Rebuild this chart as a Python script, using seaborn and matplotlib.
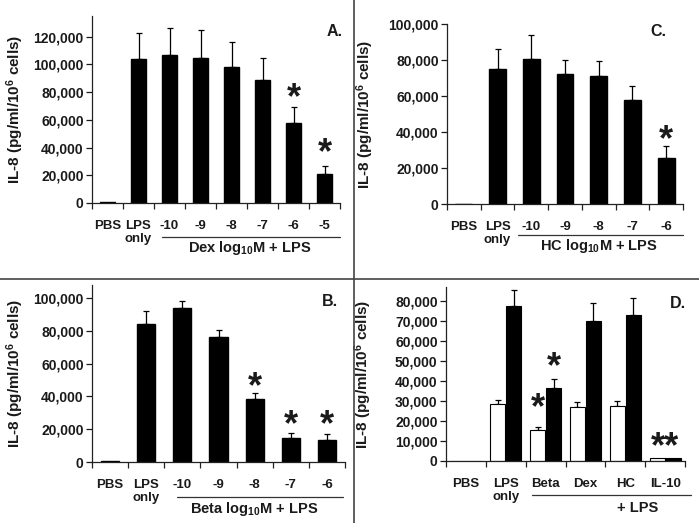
import numpy as np
import pandas as pd
import seaborn as sns
import matplotlib.pyplot as plt
from matplotlib.lines import Line2D
from matplotlib.ticker import FuncFormatter, FixedLocator, MultipleLocator
from matplotlib import transforms

# ---------------- data ----------------
a_cats = ['PBS', 'LPS\nonly', '-10', '-9', '-8', '-7', '-6', '-5']
a_vals = [800, 104000, 107000, 105000, 98000, 89000, 57500, 21000]
a_err = [0, 19000, 19500, 20000, 18000, 16000, 11500, 6000]
a_star_idx = [6, 7]
a_star_y = [80000, 40000]

c_cats = ['PBS', 'LPS\nonly', '-10', '-9', '-8', '-7', '-6']
c_vals = [0, 75000, 80500, 72500, 71000, 58000, 25500]
c_err = [0, 11000, 13500, 7500, 8500, 7500, 6500]
c_star_idx = [6]
c_star_y = [38500]

b_cats = ['PBS', 'LPS\nonly', '-10', '-9', '-8', '-7', '-6']
b_vals = [500, 84000, 94000, 76000, 38500, 14500, 13500]
b_err = [0, 8000, 4500, 4500, 3500, 3000, 3500]
b_star_idx = [4, 5, 6]
b_star_y = [49000, 26000, 26000]

d_cats = ['PBS', 'LPS\nonly', 'Beta', 'Dex', 'HC', 'IL-10']
d_white = [0, 28300, 15400, 26800, 27600, 1500]
d_white_err = [0, 2400, 1600, 2700, 2400, 0]
d_black = [0, 77500, 36500, 70000, 72800, 1500]
d_black_err = [0, 8200, 4700, 9000, 8500, 0]
d_star_text = ['*', '*', '**']
d_star_idx = [2, 2, 5]
d_star_side = ['white', 'black', 'both']
d_star_y = [29000, 49500, 9500]

# ---------------- style ----------------
sns.set_style('ticks')
plt.rcParams['font.family'] = ['Liberation Sans', 'DejaVu Sans']
plt.rcParams['font.weight'] = 'bold'
plt.rcParams['mathtext.fontset'] = 'custom'
plt.rcParams['mathtext.rm'] = 'Liberation Sans:bold'
plt.rcParams['mathtext.it'] = 'Liberation Sans:bold'
plt.rcParams['mathtext.bf'] = 'Liberation Sans:bold'

fig = plt.figure(figsize=(6.99, 5.23), dpi=100)
W, H = 699, 523
TXT = '#1a1a1a'


def add_ax(left, right, bottom, top):
    return fig.add_axes([left / W, 1 - bottom / H, (right - left) / W, (bottom - top) / H])


axA = add_ax(92, 340, 203, 16)
axC = add_ax(447, 683, 204, 24)
axB = add_ax(92, 345, 462, 285)
axD = add_ax(446, 685, 461, 287)

YLAB = 'IL-8 (pg/ml/10$^{\\mathregular{6}}$ cells)'
fmt = FuncFormatter(lambda v, p: f'{int(v):,}')


def style_axis(ax, n, ymax, ystep, ylab_x):
    ax.set_xlim(-0.5, n - 0.5)
    ax.set_ylim(0, ymax)
    ax.yaxis.set_major_locator(MultipleLocator(ystep))
    ax.yaxis.set_major_formatter(fmt)
    ax.xaxis.set_minor_locator(FixedLocator(np.arange(-0.5, n, 1.0)))
    ax.tick_params(axis='x', which='major', length=0, pad=12, labelsize=9.5, colors=TXT)
    ax.tick_params(axis='x', which='minor', length=4, width=0.9, direction='out', color='#222')
    ax.tick_params(axis='y', length=4, width=0.9, direction='out', pad=2, labelsize=10, colors=TXT)
    for lab in ax.get_xticklabels() + ax.get_yticklabels():
        lab.set_fontweight('bold')
    for s in ['top', 'right']:
        ax.spines[s].set_visible(False)
    for s in ['left', 'bottom']:
        ax.spines[s].set_linewidth(0.9)
        ax.spines[s].set_color('#222')
    ax.set_xlabel('')
    ax.set_ylabel(YLAB, fontsize=11, color=TXT, fontweight='bold')
    ax.yaxis.label.set_verticalalignment('center')
    ax.yaxis.set_label_coords(ylab_x, 0.5)


def underline(ax, x0, x1, px_below, text, text_x, text_px_below):
    tr = transforms.blended_transform_factory(ax.transData, ax.transAxes) + \
        transforms.ScaledTranslation(0, -px_below / 100, fig.dpi_scale_trans)
    ax.add_line(Line2D([x0, x1], [0, 0], transform=tr, color='#333', lw=0.9, clip_on=False))
    tr2 = transforms.blended_transform_factory(ax.transData, ax.transAxes) + \
        transforms.ScaledTranslation(0, -text_px_below / 100, fig.dpi_scale_trans)
    ax.text(text_x, 0, text, transform=tr2, ha='center', va='center', fontsize=10.5,
            color=TXT, fontweight='bold')


def errbars(ax, xs, ys, errs):
    xs = np.asarray(xs); ys = np.asarray(ys); errs = np.asarray(errs)
    m = errs > 0
    ax.errorbar(xs[m], ys[m], yerr=[np.zeros(m.sum()), errs[m]], fmt='none',
                ecolor='black', elinewidth=0.9, capsize=2.5, capthick=0.9, zorder=1)


def stars(ax, xs, ys, texts):
    tr = ax.transData + transforms.ScaledTranslation(0, -6 / 100, fig.dpi_scale_trans)
    for x, y, t in zip(xs, ys, texts):
        ax.text(x, y, t, transform=tr, ha='center', va='center', fontsize=26,
                fontweight='bold', color=TXT)


def single_panel(ax, cats, vals, err, star_idx, star_y, ymax, ystep, ylab_x):
    df = pd.DataFrame({'cat': cats, 'val': vals})
    sns.barplot(data=df, x='cat', y='val', color='black', saturation=1, width=0.5,
                edgecolor='black', errorbar=None, ax=ax, zorder=2)
    xs = [p.get_x() + p.get_width() / 2 for p in ax.patches]
    hs = [p.get_height() for p in ax.patches]
    errbars(ax, xs, hs, err)
    stars(ax, [xs[i] for i in star_idx], star_y, ['*'] * len(star_idx))
    style_axis(ax, len(cats), ymax, ystep, ylab_x)


single_panel(axA, a_cats, a_vals, a_err, a_star_idx, a_star_y, 135000, 20000, -0.31)
underline(axA, 1.75, 7.5, 34, 'Dex log$_{\\mathregular{10}}$M + LPS', 4.6, 45)

single_panel(axC, c_cats, c_vals, c_err, c_star_idx, c_star_y, 100000, 20000, -0.347)
underline(axC, 1.6, 6.5, 31, 'HC log$_{\\mathregular{10}}$M + LPS', 4.0, 42)

single_panel(axB, b_cats, b_vals, b_err, b_star_idx, b_star_y, 108000, 20000, -0.304)
underline(axB, 1.85, 6.45, 35, 'Beta log$_{\\mathregular{10}}$M + LPS', 4.0, 47)

# panel D: grouped bars
dfD = pd.DataFrame({
    'cat': d_cats * 2,
    'grp': ['white'] * len(d_cats) + ['black'] * len(d_cats),
    'val': d_white + d_black,
})
sns.barplot(data=dfD, x='cat', y='val', hue='grp', palette={'white': 'white', 'black': 'black'},
            saturation=1, width=0.8, gap=0.05, edgecolor='black', linewidth=0.8,
            errorbar=None, legend=False, ax=axD, zorder=2)
errs_map = {'white': d_white_err, 'black': d_black_err}
ex, ey, ee = [], [], []
pos = {}
for p in axD.patches:
    xc = p.get_x() + p.get_width() / 2
    ci = int(round(xc))
    side = 'white' if xc < ci else 'black'
    pos[(ci, side)] = xc
    ex.append(xc); ey.append(p.get_height()); ee.append(errs_map[side][ci])
errbars(axD, ex, ey, ee)
sx = []
for i, s in zip(d_star_idx, d_star_side):
    sx.append(i if s == 'both' else pos[(i, s)])
stars(axD, sx, d_star_y, d_star_text)
style_axis(axD, len(d_cats), 87000, 10000, -0.347)
underline(axD, 1.65, 5.65, 34, '+ LPS', 4.3, 47)

# panel letters
for t, x, y in [('A.', 335, 32), ('C.', 658, 32), ('B.', 330, 302), ('D.', 678, 303)]:
    fig.text(x / W, 1 - y / H, t, ha='center', va='center', fontsize=11.5, color=TXT,
             fontweight='bold')

# divider lines
fig.add_artist(Line2D([354 / W, 354 / W], [0, 1], transform=fig.transFigure, color='#444', lw=1.2))
fig.add_artist(Line2D([0, 1], [1 - 279 / H, 1 - 279 / H], transform=fig.transFigure, color='#444', lw=1.2))

fig.savefig('out.png', dpi=100, facecolor='white')
